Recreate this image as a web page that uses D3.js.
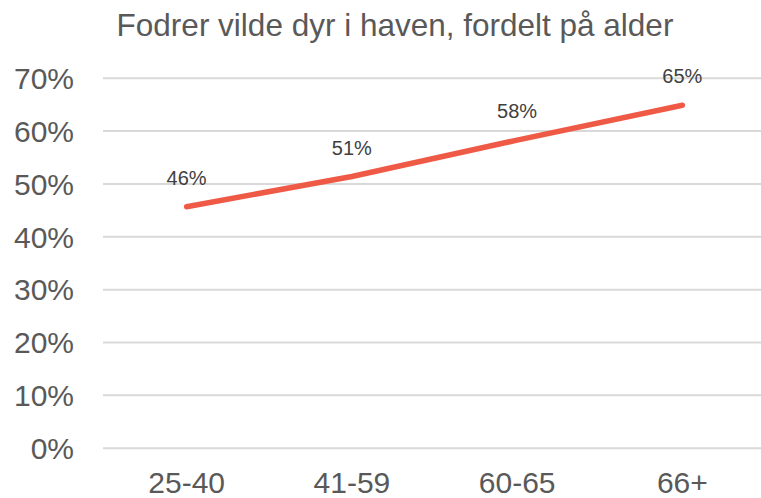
<!DOCTYPE html>
<html>
<head>
<meta charset="utf-8">
<script src="https://cdn.jsdelivr.net/npm/d3@7"></script>
<style>
  html, body { margin: 0; padding: 0; background: #ffffff; }
  svg { display: block; font-family: "Liberation Sans", Arial, sans-serif; }
</style>
</head>
<body>
<svg id="chart" width="761" height="498"></svg>
<script>
const title = "Fodrer vilde dyr i haven, fordelt på alder";
const categories = ["25-40", "41-59", "60-65", "66+"];
const values = [0.456, 0.513, 0.582, 0.648];
const valueLabels = ["46%", "51%", "58%", "65%"];
const yTicks = [0, 0.1, 0.2, 0.3, 0.4, 0.5, 0.6, 0.7];

const svg = d3.select("#chart");
const W = 761, H = 498;

const x = d3.scaleBand().domain(categories).range([104, 765]).paddingInner(0).paddingOuter(0);
const y = d3.scaleLinear().domain([0, 0.7]).range([447.7, 77.7]);
const cx = d => x(d) + x.bandwidth() / 2;

// Title
svg.append("text")
  .attr("x", 395).attr("y", 36)
  .attr("text-anchor", "middle")
  .attr("fill", "#595959")
  .style("font-size", "31.5px")
  .text(title);

// Gridlines + y labels via axis
const yAxis = d3.axisLeft(y)
  .tickValues(yTicks)
  .tickSize(-(W - 103))
  .tickPadding(29)
  .tickFormat(d3.format(".0%"));

const gy = svg.append("g").attr("transform", "translate(103,0)").call(yAxis);
gy.select(".domain").remove();
gy.selectAll(".tick line").attr("stroke", "#d9d9d9").attr("stroke-width", 2);
gy.selectAll(".tick text")
  .attr("fill", "#595959")
  .style("font-size", "30px")
  .style("font-family", "'Liberation Sans', Arial, sans-serif")
  .attr("dy", "0.36em");

// X axis labels
const xAxis = d3.axisBottom(x).tickSize(0).tickPadding(0);
const gx = svg.append("g").attr("transform", "translate(0,493)").call(xAxis);
gx.select(".domain").remove();
gx.selectAll(".tick text")
  .attr("fill", "#595959")
  .attr("y", 0).attr("dy", 0)
  .style("font-size", "30px")
  .style("font-family", "'Liberation Sans', Arial, sans-serif");

// Line
const line = d3.line()
  .x((d, i) => cx(categories[i]))
  .y(d => y(d));

svg.append("path")
  .datum(values)
  .attr("d", line)
  .attr("fill", "none")
  .attr("stroke", "#EF5A47")
  .attr("stroke-width", 5.5)
  .attr("stroke-linecap", "round")
  .attr("stroke-linejoin", "round");

// Data labels
svg.append("g").selectAll("text")
  .data(values)
  .join("text")
  .attr("x", (d, i) => cx(categories[i]))
  .attr("y", d => y(d) - 22)
  .attr("text-anchor", "middle")
  .attr("fill", "#404040")
  .style("font-size", "20px")
  .text((d, i) => valueLabels[i]);
</script>
</body>
</html>
